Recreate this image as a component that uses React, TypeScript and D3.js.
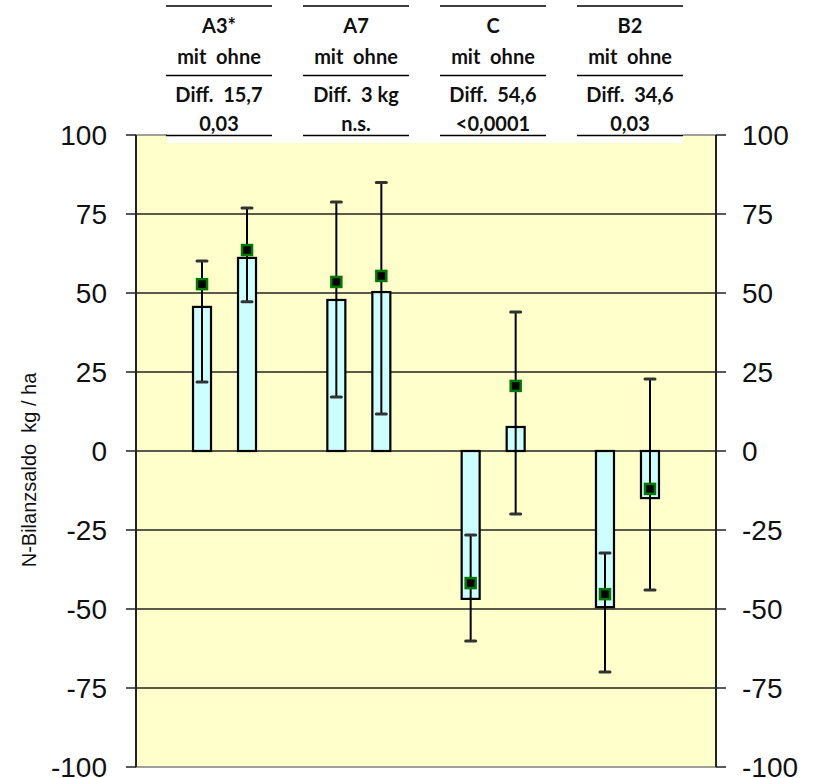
import React from 'react';
import * as d3 from 'd3';

// Versuchsvarianten und Werte (N-Bilanzsaldo kg/ha)
const groups = ['A3*', 'A7', 'C', 'B2'];
const series = ['mit', 'ohne'];
const barMean = [[45.6, 61.1], [47.8, 50.3], [-46.8, 7.6], [-49.4, -14.9]];
const markerValue = [[52.8, 63.6], [53.5, 55.4], [-41.8, 20.6], [-45.3, -12.0]];
const errHigh = [[60.1, 76.9], [78.8, 85.0], [-26.6, 44.0], [-32.3, 22.8]];
const errLow = [[21.8, 47.2], [17.1, 11.7], [-60.1, -19.9], [-69.9, -44.0]];
const diffLabels = ['Diff.  15,7', 'Diff.  3 kg', 'Diff.  54,6', 'Diff.  34,6'];
const pLabels = ['0,03', 'n.s.', '<0,0001', '0,03'];
const yTicks = [100, 75, 50, 25, 0, -25, -50, -75, -100];

const W = 814;
const H = 778;
const left = 136;
const right = 716;
const top = 135;
const bottom = 767;

export default function App() {
  const y = d3.scaleLinear().domain([-100, 100]).range([bottom, top]);
  const xg = d3.scalePoint<string>().domain(groups).range([left, right]).padding(0.659);
  const xs = d3.scalePoint<string>().domain(series).range([-22.5, 22.5]);
  const xh = d3.scalePoint<string>().domain(groups).range([219, 630]);
  const barW = 18;
  const colW = 106;
  const hdrFont = { fontFamily: 'Lato, "Open Sans", sans-serif', fontWeight: 700, fontSize: 20 };
  const axFont = { fontFamily: '"Liberation Sans", Arial, sans-serif', fontSize: 28, fill: '#111' };

  return (
    <svg width={W} height={H} style={{ position: 'absolute', left: 0, top: 0 }}>
      <rect x={0} y={0} width={W} height={H} fill="#fff" />
      {/* Plotfläche */}
      <rect x={left} y={top} width={right - left} height={bottom - top} fill="#FFFFCC" stroke="#808080" strokeWidth={1.5} />
      {/* weiße Tabellenfläche oben */}
      <rect x={167} y={top - 1} width={683 - 167} height={9} fill="#fff" />
      {/* Gitterlinien */}
      {yTicks.filter(t => t !== 100 && t !== -100).map(t => (
        <line key={t} x1={left} x2={right} y1={y(t)} y2={y(t)} stroke="#222" strokeWidth={1.5} />
      ))}
      {/* Achsen */}
      <line x1={left} x2={left} y1={top} y2={bottom} stroke="#222" strokeWidth={2} />
      <line x1={right} x2={right} y1={top} y2={bottom} stroke="#222" strokeWidth={2} />
      {yTicks.map(t => (
        <g key={'t' + t}>
          <line x1={left - 10} x2={left} y1={y(t)} y2={y(t)} stroke="#222" strokeWidth={1.5} />
          <line x1={right} x2={right + 10} y1={y(t)} y2={y(t)} stroke="#222" strokeWidth={1.5} />
          <text x={107} y={y(t)} dy="0.36em" textAnchor="end" {...axFont}>{t}</text>
          <text x={742} y={y(t)} dy="0.36em" textAnchor="start" {...axFont}>{t}</text>
        </g>
      ))}
      <text transform={`translate(29,${470}) rotate(-90)`} textAnchor="middle" dy="0.35em"
        style={{ whiteSpace: 'pre' }} fontFamily='"Liberation Sans", Arial, sans-serif' fontSize={20} fill="#111">
        {'N-Bilanzsaldo  kg / ha'}
      </text>

      {/* Balken, Fehlerbalken, Marker */}
      {groups.map((g, gi) => series.map((s, si) => {
        const cx = (xg(g) as number) + (xs(s) as number);
        const v = barMean[gi][si];
        const y0 = y(0);
        const yv = y(v);
        return (
          <g key={g + s}>
            <rect x={cx - barW / 2} y={Math.min(y0, yv)} width={barW} height={Math.abs(yv - y0)}
              fill="#CCFFFF" stroke="#000" strokeWidth={2.2} />
            <line x1={cx} x2={cx} y1={y(errHigh[gi][si])} y2={y(errLow[gi][si])} stroke="#000" strokeWidth={2} />
            <line x1={cx - 5} x2={cx + 5} y1={y(errHigh[gi][si])} y2={y(errHigh[gi][si])} stroke="#333" strokeWidth={3} strokeLinecap="round" />
            <line x1={cx - 5} x2={cx + 5} y1={y(errLow[gi][si])} y2={y(errLow[gi][si])} stroke="#333" strokeWidth={3} strokeLinecap="round" />
            <rect x={cx - 5} y={y(markerValue[gi][si]) - 5} width={10} height={10} fill="#000" stroke="#007A00" strokeWidth={2.5} />
          </g>
        );
      }))}

      {/* Kopftabelle */}
      {groups.map((g, gi) => {
        const cx = xh(g) as number;
        return (
          <g key={'h' + g} {...hdrFont}>
            <line x1={cx - colW / 2} x2={cx + colW / 2} y1={6} y2={6} stroke="#000" strokeWidth={1.5} />
            <line x1={cx - colW / 2} x2={cx + colW / 2} y1={75.5} y2={75.5} stroke="#000" strokeWidth={1.5} />
            <line x1={cx - colW / 2} x2={cx + colW / 2} y1={135.5} y2={135.5} stroke="#000" strokeWidth={1.5} />
            <text x={cx} y={33} textAnchor="middle" fill="#111">{g}</text>
            <text x={cx} y={64} textAnchor="middle" fill="#111" style={{ whiteSpace: 'pre' }}>{series.join('  ')}</text>
            <text x={cx} y={102} textAnchor="middle" fill="#111" style={{ whiteSpace: 'pre' }}>{diffLabels[gi]}</text>
            <text x={cx} y={131} textAnchor="middle" fill="#111">{pLabels[gi]}</text>
          </g>
        );
      })}
    </svg>
  );
}
